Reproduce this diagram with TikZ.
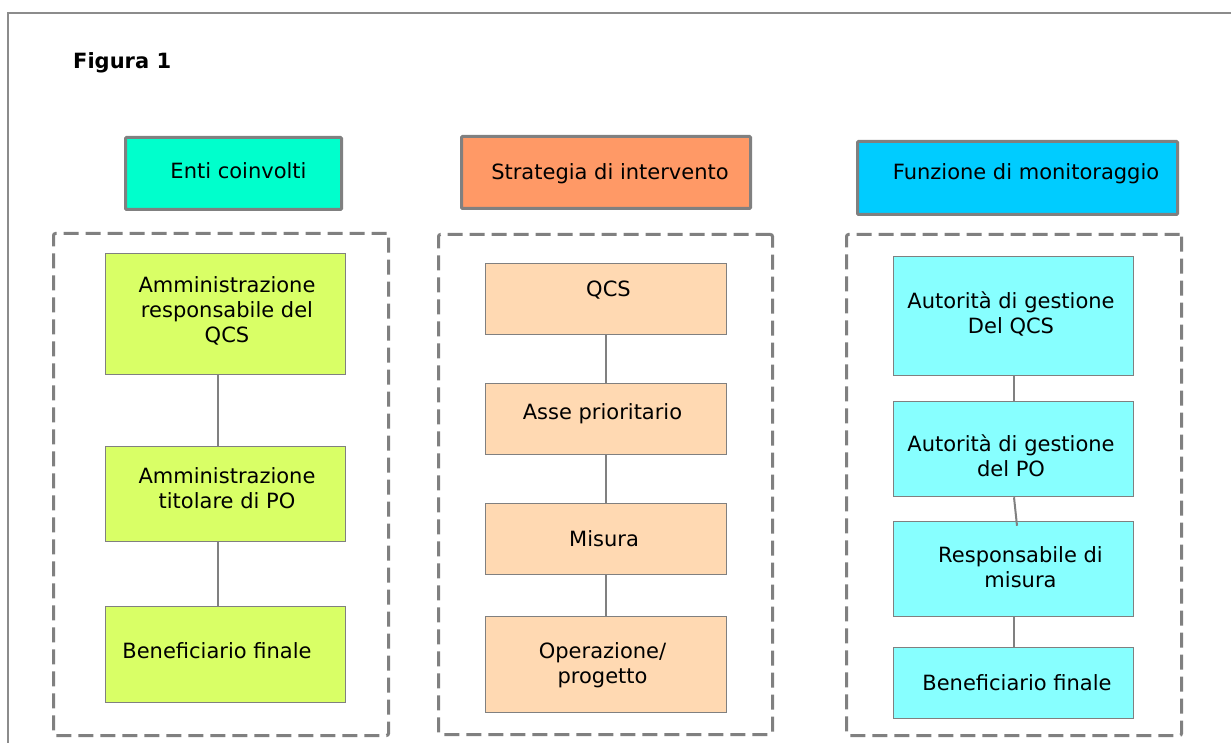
\documentclass[tikz,border=0pt]{standalone}
\usepackage{fontspec}
\setmainfont{DejaVu Sans}
\definecolor{frame}{RGB}{140,140,140}
\definecolor{edge}{RGB}{128,128,128}
\definecolor{hdrgreen}{RGB}{0,255,204}
\definecolor{hdrorange}{RGB}{255,153,102}
\definecolor{hdrblue}{RGB}{0,204,255}
\definecolor{lime}{RGB}{217,255,102}
\definecolor{peach}{RGB}{255,217,178}
\definecolor{aqua}{RGB}{135,255,255}
\tikzset{
  txt/.style={font={\fontsize{21}{25}\selectfont}, align=center, inner sep=0pt},
  hdr/.style={draw=edge, line width=3pt, rounded corners=1pt, inner sep=0pt},
  item/.style={draw=edge, line width=1.5pt, inner sep=0pt, minimum width=240pt},
  grp/.style={draw=edge, line width=3pt, dash pattern=on 15pt off 7pt, rounded corners=2pt, inner sep=0pt},
  link/.style={draw=edge, line width=2pt},
  boxtext/.style args={#1,#2:#3}{label={[txt, xshift=#1pt, yshift=#2pt]center:{#3}}}
}
\begin{document}
\begin{tikzpicture}[x=1pt, y=-1pt]
  \useasboundingbox (0,0) rectangle (1231,743);
  \fill[white] (0,0) rectangle (1231,743);
  \clip (0,0) rectangle (1231,743);

  % outer frame, running off the page to the right and below
  \draw[frame, line width=2pt] (8,760) -- (8,13) -- (1250,13);

  \node[txt, anchor=base west, font={\fontsize{21}{25}\selectfont\bfseries}] (title) at (73,69) {Figura 1};

  % column headers
  \node[hdr, fill=hdrgreen, minimum width=216pt, minimum height=72pt,
        boxtext={5,2.5:Enti coinvolti}] (h1) at (233.5,173.5) {};
  \node[hdr, fill=hdrorange, minimum width=289pt, minimum height=72pt,
        boxtext={4,-1:Strategia di intervento}] (h2) at (606,172.5) {};
  \node[hdr, fill=hdrblue, minimum width=320pt, minimum height=73pt,
        boxtext={8.5,4.5:Funzione di monitoraggio}] (h3) at (1017.5,178) {};

  % dashed group frames
  \node[grp, minimum width=335pt, minimum height=502pt] (g1) at (221,484.5) {};
  \node[grp, minimum width=334pt, minimum height=500pt] (g2) at (605.5,484.5) {};
  \node[grp, minimum width=335pt, minimum height=501pt] (g3) at (1014,485) {};

  % Enti coinvolti
  \node[item, fill=lime, minimum height=121pt,
        boxtext={1.5,3:Amministrazione\\responsabile del\\QCS}] (l1) at (225.5,314) {};
  \node[item, fill=lime, minimum height=95pt,
        boxtext={1.5,6:Amministrazione\\titolare di PO}] (l2) at (225.5,494) {};
  \node[item, fill=lime, minimum height=96pt,
        boxtext={-8.5,3.5:Beneficiario finale}] (l3) at (225.5,654.5) {};

  % Strategia di intervento
  \node[item, fill=peach, minimum width=241pt, minimum height=71pt,
        boxtext={2.5,8.5:QCS}] (m1) at (606,299) {};
  \node[item, fill=peach, minimum width=241pt, minimum height=71pt,
        boxtext={-3.5,5.5:Asse prioritario}] (m2) at (606,419) {};
  \node[item, fill=peach, minimum width=241pt, minimum height=71pt,
        boxtext={-2,0:Misura}] (m3) at (606,539) {};
  \node[item, fill=peach, minimum width=241pt, minimum height=96pt,
        boxtext={-3.5,-1:Operazione/\\progetto}] (m4) at (606,664.5) {};

  % Funzione di monitoraggio
  \node[item, fill=aqua, minimum height=119pt,
        boxtext={-2.5,2.5:Autorità di gestione\\Del QCS}] (r1) at (1013.5,316) {};
  \node[item, fill=aqua, minimum height=95pt,
        boxtext={-2.5,-7:Autorità di gestione\\del PO}] (r2) at (1013.5,449) {};
  \node[item, fill=aqua, minimum height=95pt,
        boxtext={7,2:Responsabile di\\misura}] (r3) at (1013.5,569) {};
  \node[item, fill=aqua, minimum height=71pt,
        boxtext={3.5,0:Beneficiario finale}] (r4) at (1013.5,683) {};

  % connectors
  \draw[link] ([xshift=-8pt]l1.south) -- ([xshift=-8pt]l2.north);
  \draw[link] ([xshift=-8pt]l2.south) -- ([xshift=-8pt]l3.north);
  \draw[link] (m1.south) -- (m2.north);
  \draw[link] (m2.south) -- (m3.north);
  \draw[link] (m3.south) -- (m4.north);
  \draw[link] ([xshift=0.5pt]r1.south) -- ([xshift=0.5pt]r2.north);
  \draw[link] ([xshift=0.5pt]r2.south) -- ([xshift=3.5pt,yshift=-5pt]r3.north);
  \draw[link] ([xshift=0.5pt]r3.south) -- ([xshift=0.5pt]r4.north);
\end{tikzpicture}
\end{document}
